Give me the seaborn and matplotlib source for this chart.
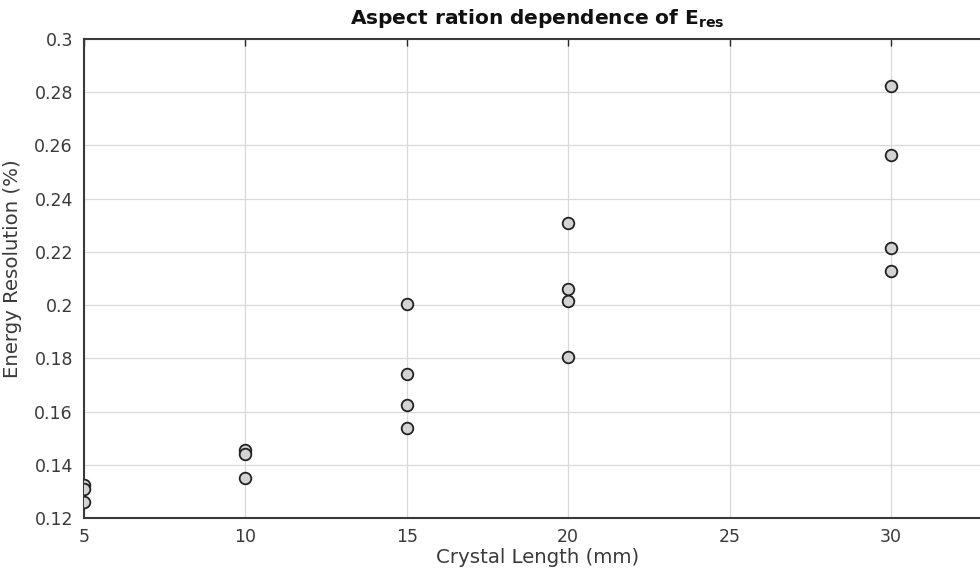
import numpy as np
import pandas as pd
import matplotlib
matplotlib.use('Agg')
import matplotlib.pyplot as plt
from matplotlib.ticker import FuncFormatter
import seaborn as sns

# 数据
crystal_length = [5, 5, 5,
                  10, 10, 10,
                  15, 15, 15, 15,
                  20, 20, 20, 20,
                  30, 30, 30, 30]
energy_res = [0.1325, 0.1310, 0.1260,
              0.1456, 0.1441, 0.1350,
              0.2003, 0.1743, 0.1625, 0.1540,
              0.2308, 0.2060, 0.2014, 0.1805,
              0.2825, 0.2565, 0.2213, 0.2128]
x_ticks = [5, 10, 15, 20, 25, 30]
y_ticks = [0.12, 0.14, 0.16, 0.18, 0.20, 0.22, 0.24, 0.26, 0.28, 0.30]

df = pd.DataFrame({'Crystal Length (mm)': crystal_length,
                   'Energy Resolution (%)': energy_res})

sns.set_theme(style='white')
plt.rcParams['font.family'] = ['DejaVu Sans']

fig = plt.figure(figsize=(9.8, 5.72), dpi=100)
# 轴的右边超出画布（原图被裁掉）
ax = fig.add_axes([84 / 980, 54 / 572, 907 / 980, 479 / 572])

sns.scatterplot(data=df, x='Crystal Length (mm)', y='Energy Resolution (%)',
                ax=ax, s=70, color='#d3d3d3', edgecolor='#222222',
                linewidth=1.3, zorder=3)

ax.set_xlim(5, 33.1)
ax.set_ylim(0.12, 0.3)
ax.set_xticks(x_ticks)
ax.set_yticks(y_ticks)
ax.yaxis.set_major_formatter(FuncFormatter(lambda v, p: '%g' % round(v, 2)))
ax.grid(True, color='#d9d9d9', linewidth=0.9)
ax.set_axisbelow(True)
ax.tick_params(direction='in', length=5, width=1, colors='#262626',
               labelsize=12.5, top=True, right=True)
ax.tick_params(axis='y', pad=8)
ax.tick_params(axis='x', pad=7)
ax.tick_params(labelcolor='#3a3a3a')
for sp in ax.spines.values():
    sp.set_color('#3a3a3a')
    sp.set_linewidth(1.5)

ax.set_xlabel('Crystal Length (mm)', fontsize=14.2, color='#3a3a3a')
ax.set_ylabel('Energy Resolution (%)', fontsize=14.2, color='#3a3a3a')
ax.xaxis.set_label_coords(0.5, -30 / 479)
ax.yaxis.set_label_coords(-62 / 907, 0.52)
ax.set_title(r'Aspect ration dependence of $\mathbf{E_{res}}$',
             fontsize=14.5, fontweight='bold', pad=11, color='#111111')

fig.savefig('out.png', dpi=100)
